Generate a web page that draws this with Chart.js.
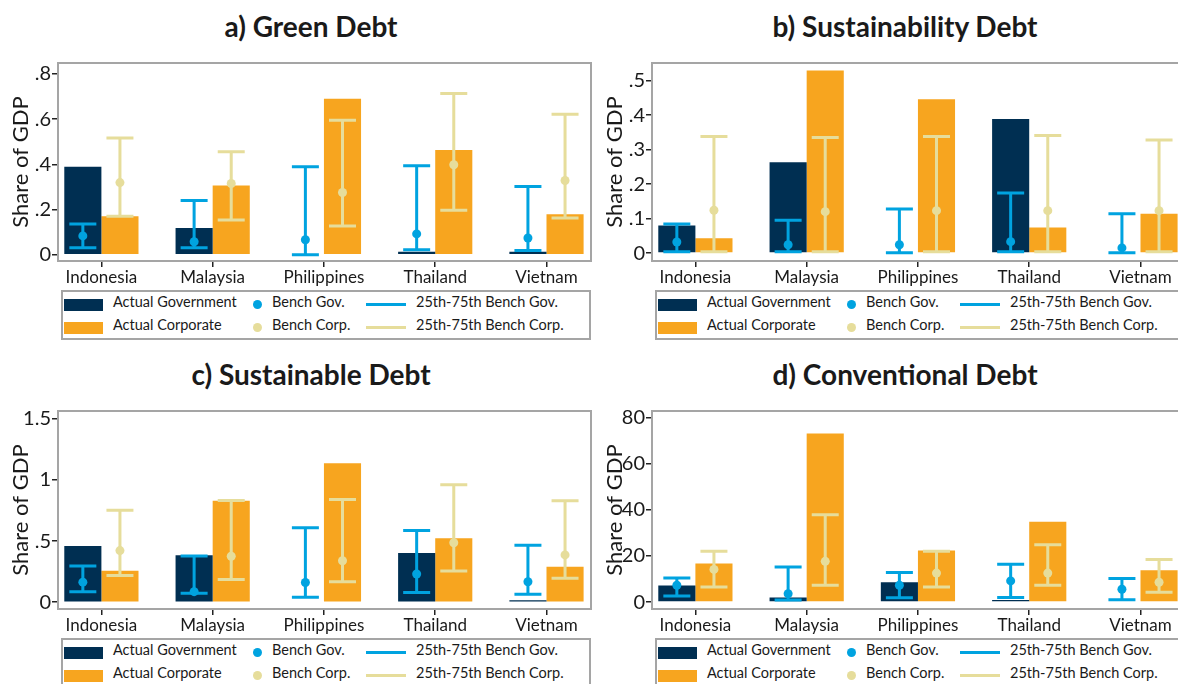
<!DOCTYPE html>
<html>
<head>
<meta charset="utf-8">
<script src="https://cdn.jsdelivr.net/npm/chart.js@4.4.1/dist/chart.umd.min.js"></script>
<style>
  body { margin: 0; width: 1178px; height: 684px; overflow: hidden; background: #fff; font-family: Lato, sans-serif; position: relative; color: #1a1a1a; }
  .panel { position: absolute; width: 594px; height: 342px; }
  .title { position: absolute; left: 0; width: 622px; top: 8px; text-align: center; font-weight: bold; font-size: 28px; line-height: 37px; }
  .panel canvas { position: absolute; left: 0; top: 50px; }
  .legend { position: absolute; left: 61px; top: 290px; width: 530px; height: 50px; box-sizing: border-box; border: 2px solid #a5a5a5; font-size: 14.5px; }
  .legend span { position: absolute; white-space: nowrap; }
  .sw { width: 39px; height: 12px; }
  .dot { width: 9px; height: 9px; border-radius: 50%; }
  .ln { width: 40px; height: 3px; }
</style>
</head>
<body>
<div class="panel" id="pa" style="left:0;top:0"></div>
<div class="panel" id="pb" style="left:594px;top:0"></div>
<div class="panel" id="pc" style="left:0;top:348px"></div>
<div class="panel" id="pd" style="left:594px;top:348px"></div>
<script>
const countries = ['Indonesia', 'Malaysia', 'Philippines', 'Thailand', 'Vietnam'];

// a) Green Debt
const greenGov = [0.389, 0.118, 0, 0.013, 0.013];
const greenCorp = [0.170, 0.306, 0.690, 0.463, 0.179];
const greenGovMed = [0.083, 0.057, 0.066, 0.092, 0.074];
const greenGovP25 = [0.031, 0.031, 0.000, 0.022, 0.018];
const greenGovP75 = [0.136, 0.240, 0.389, 0.393, 0.302];
const greenCorpMed = [0.319, 0.315, 0.275, 0.398, 0.328];
const greenCorpP25 = [0.170, 0.153, 0.127, 0.197, 0.162];
const greenCorpP75 = [0.516, 0.455, 0.595, 0.713, 0.621];
const greenTicks = [0, 0.2, 0.4, 0.6, 0.8];
const greenTickLabels = ['0', '.2', '.4', '.6', '.8'];

// b) Sustainability Debt
const slbGov = [0.080, 0.263, 0, 0.389, 0];
const slbCorp = [0.043, 0.529, 0.446, 0.074, 0.114];
const slbGovMed = [0.032, 0.024, 0.024, 0.033, 0.015];
const slbGovP25 = [0.004, 0.004, 0.001, 0.004, 0.001];
const slbGovP75 = [0.084, 0.095, 0.128, 0.174, 0.114];
const slbCorpMed = [0.124, 0.120, 0.123, 0.123, 0.123];
const slbCorpP25 = [0.004, 0.004, 0.004, 0.004, 0.004];
const slbCorpP75 = [0.338, 0.335, 0.338, 0.341, 0.328];
const slbTicks = [0, 0.1, 0.2, 0.3, 0.4, 0.5];
const slbTickLabels = ['0', '.1', '.2', '.3', '.4', '.5'];

// c) Sustainable Debt
const susGov = [0.460, 0.385, 0, 0.403, 0.016];
const susCorp = [0.258, 0.831, 1.137, 0.524, 0.290];
const susGovMed = [0.164, 0.086, 0.161, 0.231, 0.167];
const susGovP25 = [0.086, 0.073, 0.040, 0.080, 0.064];
const susGovP75 = [0.296, 0.377, 0.610, 0.586, 0.465];
const susCorpMed = [0.422, 0.376, 0.339, 0.486, 0.387];
const susCorpP25 = [0.218, 0.185, 0.167, 0.256, 0.196];
const susCorpP75 = [0.752, 0.833, 0.841, 0.962, 0.831];
const susTicks = [0, 0.5, 1, 1.5];
const susTickLabels = ['0', '.5', '1', '1.5'];

// d) Conventional Debt
const convGov = [7.2, 2.0, 8.6, 0.9, 0.4];
const convCorp = [16.8, 73.2, 22.4, 34.9, 13.8];
const convGovMed = [7.3, 3.6, 7.3, 9.2, 5.6];
const convGovP25 = [2.6, 0.9, 1.9, 2.0, 1.0];
const convGovP75 = [10.5, 15.2, 12.9, 16.4, 10.2];
const convCorpMed = [14.2, 17.7, 12.6, 12.6, 8.6];
const convCorpP25 = [6.6, 7.3, 6.6, 7.3, 4.3];
const convCorpP75 = [22.1, 37.9, 22.1, 24.9, 18.5];
const convTicks = [0, 20, 40, 60, 80];
const convTickLabels = ['0', '20', '40', '60', '80'];

const NAVY = '#002f52', ORANGE = '#f7a51f', BLUE = '#00a3e0', BEIGE = '#e6dd9b', FRAME = '#a5a5a5';

// frame + bench error bars
const benchPlugin = {
  id: 'bench',
  beforeDatasetsDraw(chart) {
    const a = chart.chartArea, ctx = chart.ctx;
    ctx.save();
    ctx.strokeStyle = FRAME;
    ctx.lineWidth = 2;
    ctx.strokeRect(a.left, a.top, a.right - a.left, a.bottom - a.top);
    ctx.restore();
  },
  afterDatasetsDraw(chart, args, opts) {
    const ctx = chart.ctx, y = chart.scales.y;
    opts.series.forEach((s, di) => {
      const meta = chart.getDatasetMeta(di);
      meta.data.forEach((bar, i) => {
        const x = bar.x;
        const lo = y.getPixelForValue(s.p25[i]);
        const hi = y.getPixelForValue(s.p75[i]);
        const md = y.getPixelForValue(s.med[i]);
        ctx.save();
        ctx.strokeStyle = s.color;
        ctx.fillStyle = s.color;
        ctx.lineWidth = 3;
        ctx.beginPath();
        ctx.moveTo(x, lo); ctx.lineTo(x, hi);
        ctx.moveTo(x - 13.5, lo); ctx.lineTo(x + 13.5, lo);
        ctx.moveTo(x - 13.5, hi); ctx.lineTo(x + 13.5, hi);
        ctx.stroke();
        ctx.beginPath();
        ctx.arc(x, md, 4.5, 0, Math.PI * 2);
        ctx.fill();
        ctx.restore();
      });
    });
  }
};

function makePanel(id, title, gov, corp, gMed, gP25, gP75, cMed, cP25, cP75, ticks, tickLabels, yMin, yMax) {
  const panel = document.getElementById(id);
  panel.innerHTML =
    '<div class="title">' + title + '</div>' +
    '<canvas width="594" height="240"></canvas>' +
    '<div class="legend">' +
      '<span class="sw" style="left:1px;top:7px;background:' + NAVY + '"></span>' +
      '<span style="left:50px;top:1px">Actual Government</span>' +
      '<span class="sw" style="left:1px;top:30px;background:' + ORANGE + '"></span>' +
      '<span style="left:50px;top:24px">Actual Corporate</span>' +
      '<span class="dot" style="left:190px;top:8px;background:' + BLUE + '"></span>' +
      '<span style="left:209px;top:1px">Bench Gov.</span>' +
      '<span class="dot" style="left:190px;top:31px;background:' + BEIGE + '"></span>' +
      '<span style="left:209px;top:24px">Bench Corp.</span>' +
      '<span class="ln" style="left:303px;top:11px;background:' + BLUE + '"></span>' +
      '<span style="left:353px;top:1px">25th-75th Bench Gov.</span>' +
      '<span class="ln" style="left:303px;top:34px;background:' + BEIGE + '"></span>' +
      '<span style="left:353px;top:24px">25th-75th Bench Corp.</span>' +
    '</div>';

  const ctx = panel.querySelector('canvas').getContext('2d');
  new Chart(ctx, {
    type: 'bar',
    data: {
      datasets: [
        { label: 'Actual Government', data: gov.map((v, i) => ({ x: i + 1, y: v })), backgroundColor: NAVY },
        { label: 'Actual Corporate', data: corp.map((v, i) => ({ x: i + 1, y: v })), backgroundColor: ORANGE }
      ]
    },
    options: {
      responsive: false,
      animation: false,
      events: [],
      layout: { padding: { top: 9, right: 3, left: 0, bottom: 0 } },
      datasets: { bar: { barPercentage: 1, categoryPercentage: 0.667 } },
      plugins: {
        legend: { display: false },
        tooltip: { enabled: false },
        bench: {
          series: [
            { med: gMed, p25: gP25, p75: gP75, color: BLUE },
            { med: cMed, p25: cP25, p75: cP75, color: BEIGE }
          ]
        }
      },
      scales: {
        x: {
          type: 'linear',
          min: 0.61, max: 5.4,
          offset: false,
          border: { display: false },
          grid: { display: true, offset: false, drawOnChartArea: false, drawTicks: true, tickLength: 6, color: '#222', lineWidth: 1.5 },
          ticks: {
            color: '#1a1a1a', font: { family: 'Lato', size: 17 }, padding: 0, maxRotation: 0, autoSkip: false,
            callback: v => countries[v - 1]
          },
          afterBuildTicks: s => { s.ticks = countries.map((c, i) => ({ value: i + 1 })); },
          afterFit: s => { s.height = 29; }
        },
        y: {
          min: yMin, max: yMax,
          border: { display: false },
          grid: { display: true, drawOnChartArea: false, drawTicks: true, tickLength: 6, color: '#222', lineWidth: 1.5 },
          ticks: {
            color: '#1a1a1a', font: { family: 'Lato', size: 20 }, padding: 1,
            callback: (v) => tickLabels[ticks.indexOf(v)]
          },
          afterBuildTicks: s => { s.ticks = ticks.map(v => ({ value: v })); },
          afterFit: s => { s.width = 58; },
          title: { display: true, text: 'Share of GDP', color: '#1a1a1a', font: { family: 'Lato', size: 22 }, padding: { top: 8, bottom: 0 } }
        }
      }
    },
    plugins: [benchPlugin]
  });
}

makePanel('pa', 'a) Green Debt', greenGov, greenCorp, greenGovMed, greenGovP25, greenGovP75, greenCorpMed, greenCorpP25, greenCorpP75, greenTicks, greenTickLabels, -0.028, 0.848);
makePanel('pb', 'b) Sustainability Debt', slbGov, slbCorp, slbGovMed, slbGovP25, slbGovP75, slbCorpMed, slbCorpP25, slbCorpP75, slbTicks, slbTickLabels, -0.023, 0.551);
makePanel('pc', 'c) Sustainable Debt', susGov, susCorp, susGovMed, susGovP25, susGovP75, susCorpMed, susCorpP25, susCorpP75, susTicks, susTickLabels, -0.056, 1.565);
makePanel('pd', 'd) Conventional Debt', convGov, convCorp, convGovMed, convGovP25, convGovP75, convCorpMed, convCorpP25, convCorpP75, convTicks, convTickLabels, -3, 83);
</script>
</body>
</html>
